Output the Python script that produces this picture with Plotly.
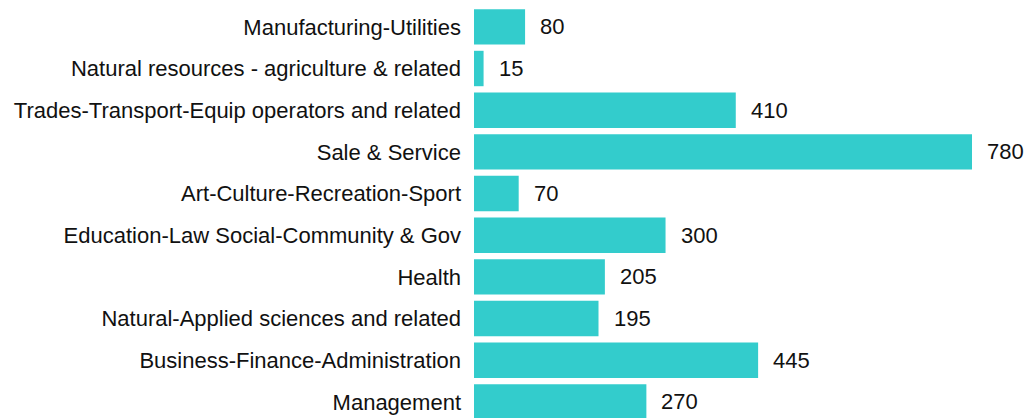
import plotly.graph_objects as go

# Occupation groups, bottom to top
categories = [
    "Management",
    "Business-Finance-Administration",
    "Natural-Applied sciences and related",
    "Health",
    "Education-Law Social-Community & Gov",
    "Art-Culture-Recreation-Sport",
    "Sale & Service",
    "Trades-Transport-Equip operators and related",
    "Natural resources - agriculture & related",
    "Manufacturing-Utilities",
]
values = [270, 445, 195, 205, 300, 70, 780, 410, 15, 80]

FONT = "Liberation Sans, Arial, sans-serif"
FONT_SIZE = 22
BAR_COLOR = "#33CCCC"

fig = go.Figure(
    go.Bar(
        x=values,
        y=categories,
        orientation="h",
        marker=dict(color=BAR_COLOR, line=dict(width=0)),
        hoverinfo="x+y",
    )
)

# value labels just past the end of each bar
for cat, val in zip(categories, values):
    fig.add_annotation(
        x=val, y=cat, text=str(val), showarrow=False,
        xanchor="left", yanchor="middle", xshift=13,
        font=dict(family=FONT, size=FONT_SIZE, color="#111111"),
    )

n = len(categories)
fig.update_layout(
    width=1027,
    height=418,
    margin=dict(l=474, r=55, t=6, b=0),
    paper_bgcolor="white",
    plot_bgcolor="white",
    bargap=0.15,
    showlegend=False,
    font=dict(family=FONT, size=FONT_SIZE, color="#111111"),
    xaxis=dict(range=[0, 780], visible=False, fixedrange=True, automargin=False),
    yaxis=dict(
        type="category",
        range=[n - 0.5 - 412 / 41.67, n - 0.5],
        showgrid=False, zeroline=False, showline=False,
        ticks="", ticklabelstandoff=12, automargin=False,
        tickfont=dict(family=FONT, size=FONT_SIZE, color="#111111"),
    ),
)

fig.write_html("out.html")
